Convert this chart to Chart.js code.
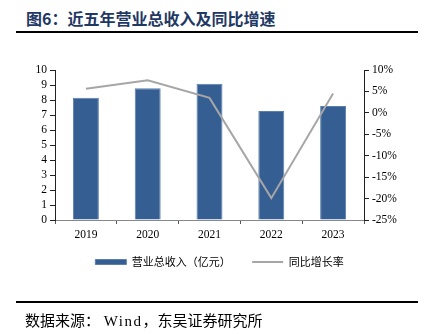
<!DOCTYPE html>
<html>
<head>
<meta charset="utf-8">
<script src="https://cdn.jsdelivr.net/npm/chart.js@4"></script>
<style>
  body { margin: 0; width: 424px; height: 334px; background: #fff; position: relative; overflow: hidden; }
  #title { position: absolute; left: 26px; top: 6px; font: bold 16px "Noto Sans CJK SC", serif; color: #1f3864; white-space: pre; }
  #topline { position: absolute; left: 16px; top: 31px; width: 402px; height: 2px; background: #000; }
  #botline { position: absolute; left: 16px; top: 301px; width: 402px; height: 2px; background: #000; }
  #source { position: absolute; left: 25px; top: 309px; font: 15px "Liberation Serif", "Noto Sans CJK SC", serif; color: #000; white-space: pre; }
  #source span { letter-spacing: 1.5px; }
  #wrap { position: absolute; left: 0; top: 0; width: 424px; height: 334px; }
</style>
</head>
<body>
<div id="title">图6：近五年营业总收入及同比增速</div>
<div id="topline"></div>
<div id="wrap"><canvas id="chart"></canvas></div>
<div id="botline"></div>
<div id="source">数据来源： <span>Wind</span>，东吴证券研究所</div>
<script>
const years = ['2019', '2020', '2021', '2022', '2023']
// 营业总收入（亿元）
const revenue = [8.15, 8.78, 9.08, 7.27, 7.6]
// 同比增长率（%）
const growth = [5.6, 7.6, 3.5, -19.9, 4.5]

const tickFont = { family: 'Liberation Serif', size: 11.5 }

function initializeChart() {
    const ctx = document.getElementById('chart');

    return new Chart(ctx, {
        data: {
            labels: years,
            datasets: [{
                type: 'line',
                label: '同比增长率',
                data: growth,
                yAxisID: 'y1',
                borderColor: '#a6a6a6',
                backgroundColor: '#a6a6a6',
                borderWidth: 2,
                pointRadius: 0,
                tension: 0,
                pointStyle: 'line',
                order: 0
            }, {
                type: 'bar',
                label: '营业总收入（亿元）',
                data: revenue,
                yAxisID: 'y',
                backgroundColor: '#355e93',
                borderColor: '#5b7fae',
                borderWidth: 1,
                barPercentage: 0.42,
                categoryPercentage: 1,
                pointStyle: 'rect',
                order: 1
            }]
        },
        options: {
            responsive: false,
            animation: false,
            layout: { padding: { left: 15, right: 0, top: 70, bottom: 56.5 } },
            plugins: {
                legend: {
                    position: 'bottom',
                    reverse: true,
                    labels: {
                        usePointStyle: true,
                        pointStyleWidth: 31,
                        boxHeight: 5,
                        padding: 6.5,
                        color: '#000',
                        font: { family: 'Noto Sans CJK SC', size: 11 },
                        generateLabels: chart => {
                            const items = Chart.defaults.plugins.legend.labels.generateLabels(chart)
                            // a bit of room between the two entries
                            items.forEach(it => { if (it.datasetIndex === 1) it.text += '      ' })
                            return items
                        }
                    }
                },
                tooltip: { enabled: false }
            },
            scales: {
                x: {
                    offset: true,
                    grid: { drawOnChartArea: false, offset: true, tickLength: 4, color: '#555' },
                    border: { color: '#888', width: 1 },
                    ticks: { color: '#000', font: tickFont, padding: 4 },
                    afterFit: scale => { scale.height = 30 }
                },
                y: {
                    position: 'left',
                    min: 0, max: 10,
                    grid: { drawOnChartArea: false, tickLength: 5, color: '#222' },
                    border: { color: '#222', width: 1 },
                    ticks: { stepSize: 1, autoSkip: false, color: '#000', font: tickFont, padding: 3 },
                    afterFit: scale => { scale.width = 40 }
                },
                y1: {
                    position: 'right',
                    min: -25, max: 10,
                    grid: { drawOnChartArea: false, tickLength: 5, color: '#222' },
                    border: { color: '#222', width: 1 },
                    ticks: { stepSize: 5, autoSkip: false, color: '#000', font: tickFont, padding: 3,
                        callback: v => v + '%' },
                    afterFit: scale => { scale.width = 60 }
                }
            }
        }
    })
}

const canvas = document.getElementById('chart')
canvas.width = 424
canvas.height = 334
initializeChart()
</script>
</body>
</html>
